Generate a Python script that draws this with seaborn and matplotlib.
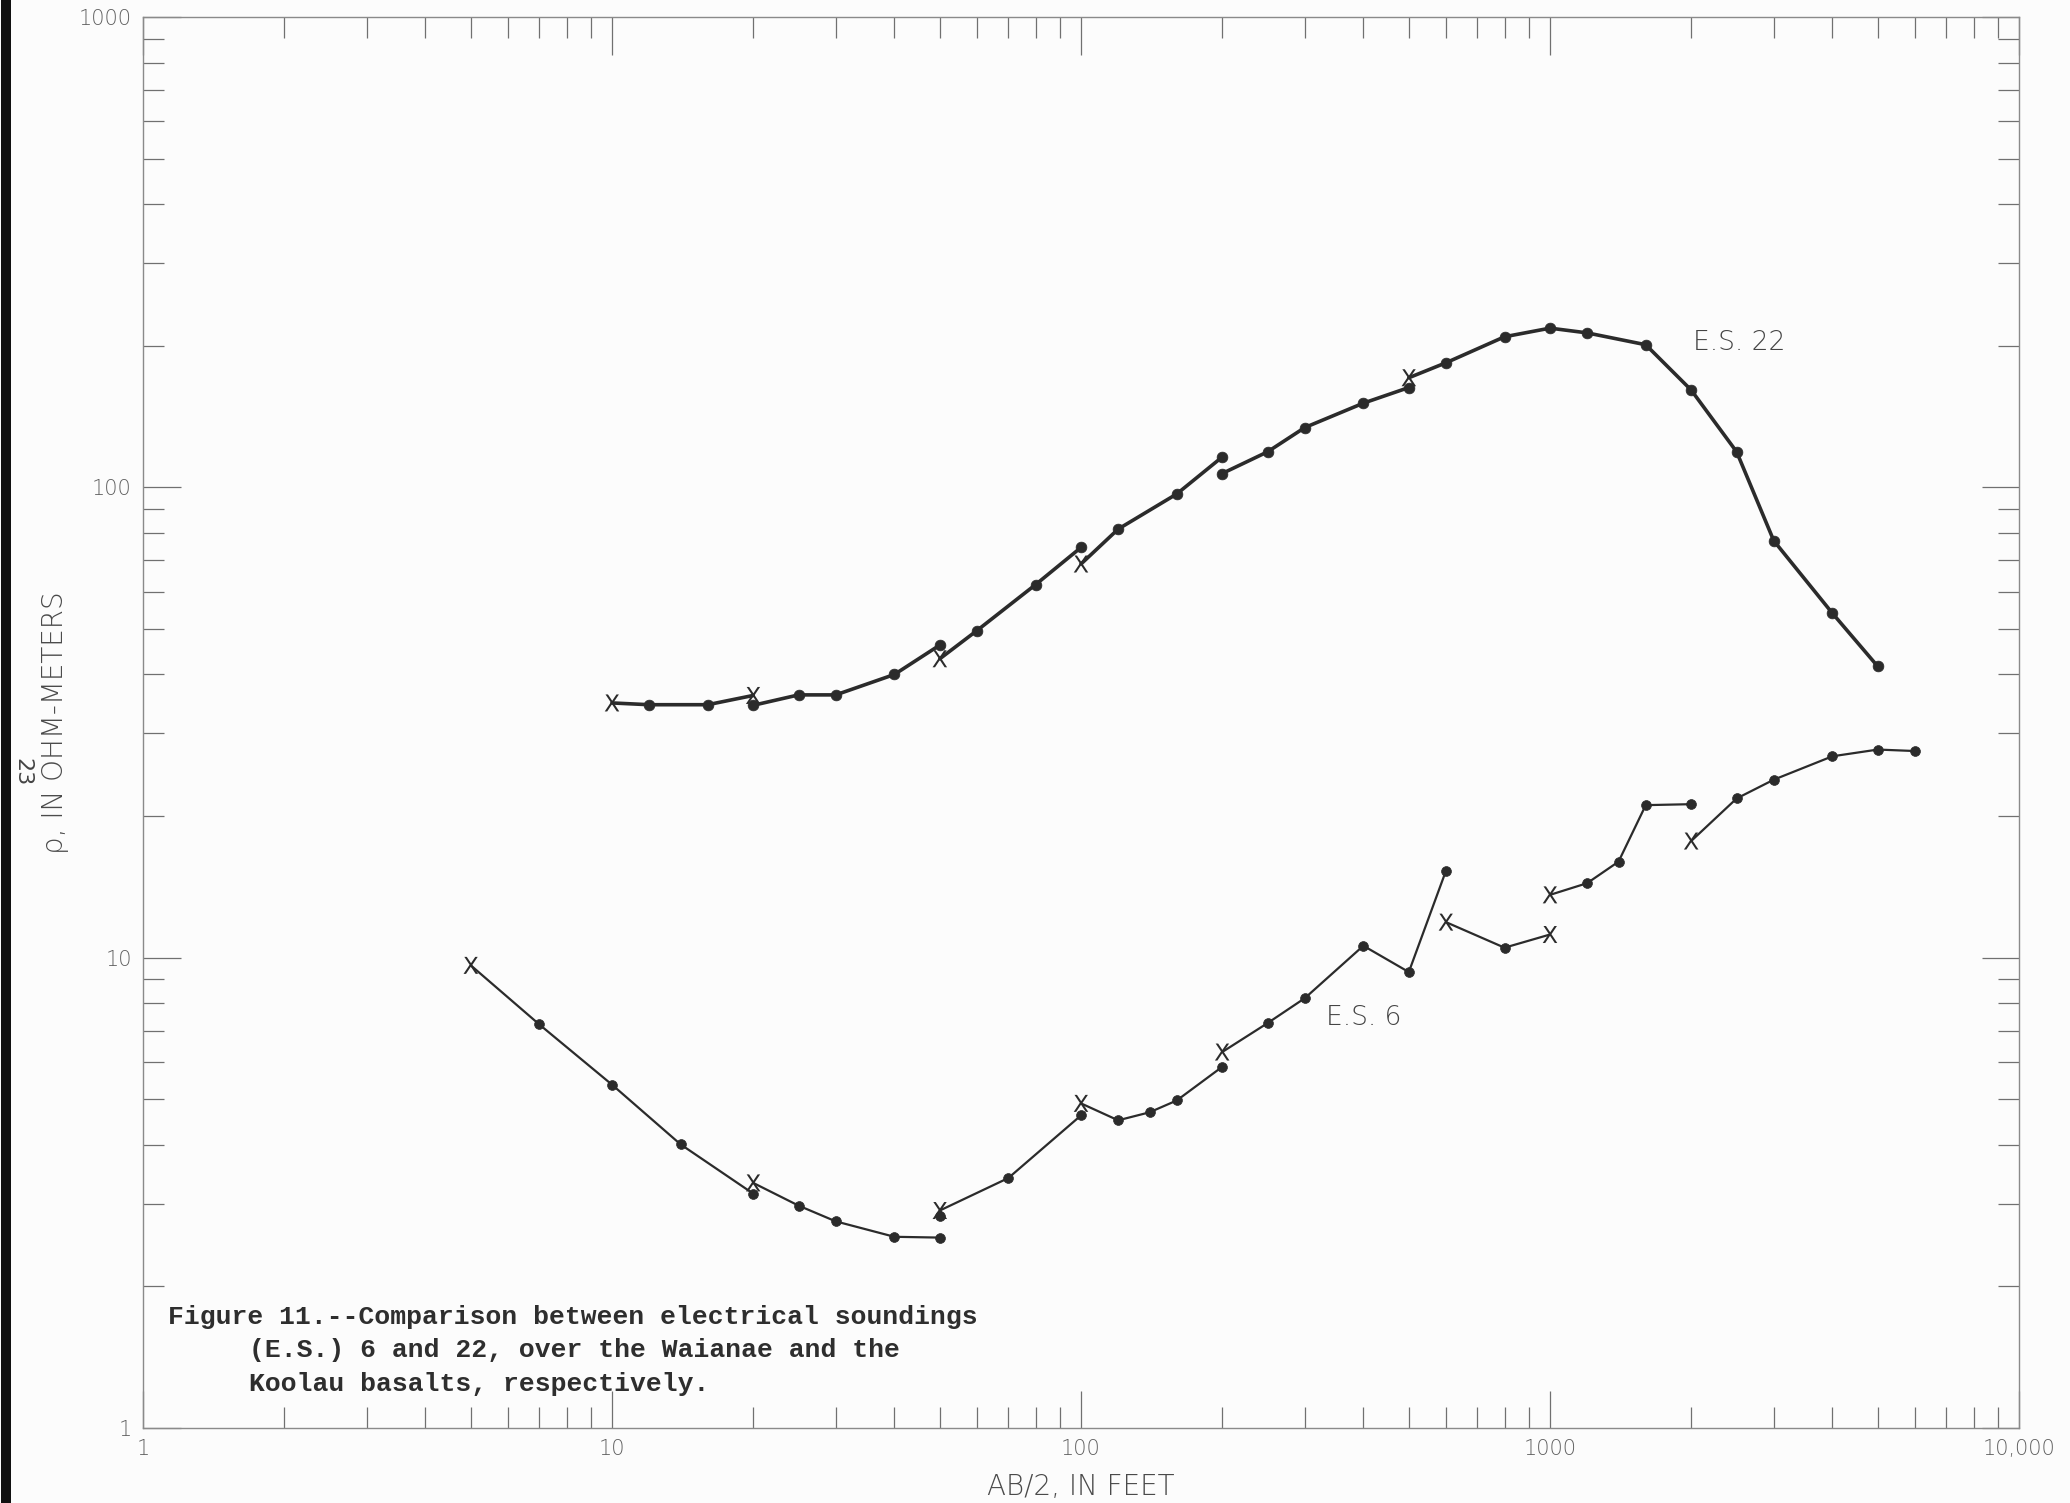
import numpy as np
import pandas as pd
import matplotlib
matplotlib.use("Agg")
import matplotlib.pyplot as plt
from matplotlib.patches import Rectangle
from matplotlib.ticker import FixedLocator, FixedFormatter, NullFormatter
import seaborn as sns

# ---------------- data ----------------
# E.S. 22 (Koolau basalts)
es22_x    = [10, 12, 16, 20,   20, 25, 30, 40, 50,   50, 60, 80, 100,
             100, 120, 160, 200,   200, 250, 300, 400, 500,
             500, 600, 800, 1000, 1200, 1600, 2000, 2500, 3000, 4000, 5000]
es22_y    = [34.8, 34.5, 34.5, 36.1,   34.4, 36.2, 36.2, 40.0, 46.2,   43.2, 49.6, 62.1, 74.5,
             68.7, 81.5, 96.8, 116,   107, 119, 134, 151, 163,
             171, 184, 209, 218, 213, 201, 161, 119, 77, 54, 41.6]
es22_mark = ['x', 'o', 'o', 'x',   'o', 'o', 'o', 'o', 'o',   'x', 'o', 'o', 'o',
             'x', 'o', 'o', 'o',   'o', 'o', 'o', 'o', 'o',
             'x', 'o', 'o', 'o', 'o', 'o', 'o', 'o', 'o', 'o', 'o']
es22_seg  = [1, 1, 1, 1,   2, 2, 2, 2, 2,   3, 3, 3, 3,
             4, 4, 4, 4,   5, 5, 5, 5, 5,
             6, 6, 6, 6, 6, 6, 6, 6, 6, 6, 6]

# E.S. 6 (Waianae basalts)
es6_x    = [5, 7, 10, 14, 20,   20, 25, 30, 40, 50,   50,   50, 70, 100,
            100, 120, 140, 160, 200,   200, 250, 300, 400, 500, 600,
            600, 800, 1000,   1000, 1200, 1400, 1600, 2000,
            2000, 2500, 3000, 4000, 5000, 6000]
es6_y    = [9.63, 7.21, 5.37, 4.01, 3.15,   3.32, 2.97, 2.75, 2.55, 2.54,   2.82,   2.90, 3.40, 4.62,
            4.90, 4.51, 4.69, 4.97, 5.86,   6.30, 7.26, 8.2, 10.6, 9.32, 15.3,
            11.9, 10.5, 11.2,   13.6, 14.4, 16.0, 21.1, 21.2,
            17.7, 21.8, 23.9, 26.8, 27.7, 27.5]
es6_mark = ['x', 'o', 'o', 'o', 'o',   'x', 'o', 'o', 'o', 'o',   'o',   'x', 'o', 'o',
            'x', 'o', 'o', 'o', 'o',   'x', 'o', 'o', 'o', 'o', 'o',
            'x', 'o', 'x',   'x', 'o', 'o', 'o', 'o',
            'x', 'o', 'o', 'o', 'o', 'o']
es6_seg  = [1, 1, 1, 1, 1,   2, 2, 2, 2, 2,   0,   3, 3, 3,
            4, 4, 4, 4, 4,   5, 5, 5, 5, 5, 5,
            6, 6, 6,   7, 7, 7, 7, 7,
            8, 8, 8, 8, 8, 8]

x_ticks = [1, 10, 100, 1000, 10000]
x_tick_labels = ['1', '10', '100', '1000', '10,000']
y_ticks = [1, 10, 100, 1000]
y_tick_labels = ['1', '10', '100', '1000']

curve_labels = ['E.S. 22', 'E.S. 6']
caption_lines = ["Figure 11.--Comparison between electrical soundings",
                 "(E.S.) 6 and 22, over the Waianae and the",
                 "Koolau basalts, respectively."]

# ---------------- figure ----------------
sns.set_style("white")
plt.rcParams['font.family'] = ['DejaVu Sans']

W, H = 2070, 1503
fig = plt.figure(figsize=(W / 100, H / 100), dpi=100, facecolor='#fcfcfc')
ax_l, ax_r, ax_t, ax_b = 143, 2019, 17, 1428
ax = fig.add_axes([ax_l / W, 1 - ax_b / H, (ax_r - ax_l) / W, (ax_b - ax_t) / H])
ax.set_facecolor('#fcfcfc')

df22 = pd.DataFrame({'x': es22_x, 'y': es22_y, 'mark': es22_mark, 'seg': es22_seg})
df6 = pd.DataFrame({'x': es6_x, 'y': es6_y, 'mark': es6_mark, 'seg': es6_seg})

ink = '#2b2b2b'
for df, lw, ms in [(df22, 2.6, 60), (df6, 1.6, 50)]:
    lines = df[df['seg'] > 0]
    sns.lineplot(data=lines, x='x', y='y', units='seg', estimator=None, sort=False,
                 color=ink, lw=lw, ax=ax, legend=False)
    sns.scatterplot(data=df[df['mark'] == 'o'], x='x', y='y', marker='o', s=ms,
                    color=ink, edgecolor=ink, linewidth=0.5, ax=ax, legend=False, zorder=3)
    sns.scatterplot(data=df[df['mark'] == 'x'], x='x', y='y', marker=r'$\mathsf{X}$', s=150,
                    color=ink, edgecolor='none', linewidth=0, ax=ax, legend=False, zorder=3)

ax.set_xscale('log')
ax.set_yscale('log')
ax.set_xlim(1, 10000)
ax.set_ylim(1, 1000)

tick_col = '#707070'
ax.xaxis.set_major_locator(FixedLocator(x_ticks))
ax.xaxis.set_major_formatter(FixedFormatter(x_tick_labels))
ax.yaxis.set_major_locator(FixedLocator(y_ticks))
ax.yaxis.set_major_formatter(FixedFormatter(y_tick_labels))
minor_x = [m * 10 ** e for e in range(0, 4) for m in range(2, 10)]
minor_y = [m * 10 ** e for e in range(0, 3) for m in range(2, 10)]
ax.xaxis.set_minor_locator(FixedLocator(minor_x))
ax.yaxis.set_minor_locator(FixedLocator(minor_y))
ax.xaxis.set_minor_formatter(NullFormatter())
ax.yaxis.set_minor_formatter(NullFormatter())

ax.tick_params(which='both', direction='in', top=True, right=True, bottom=True, left=True,
               labeltop=False, labelright=False, color=tick_col, width=0.9)
ax.tick_params(which='major', length=27, labelsize=15, labelcolor='#606060', pad=8)
ax.tick_params(which='minor', length=15)
for lab in ax.get_xticklabels() + ax.get_yticklabels():
    lab.set_fontweight('light')

for sp in ax.spines.values():
    sp.set_color('#8a8a8a')
    sp.set_linewidth(1.0)

ax.set_xlabel('AB/2, IN FEET', fontsize=20, color='#4a4a4a', fontweight='light')
ax.set_ylabel('ρ, IN OHM-METERS', fontsize=20, color='#4a4a4a', fontweight='light')
ax.xaxis.set_label_coords(0.5, -(1487 - ax_b) / (ax_b - ax_t), transform=ax.transAxes)
ax.yaxis.set_label_coords(-(ax_l - 55) / (ax_r - ax_l), 0.5, transform=ax.transAxes)
ax.xaxis.label.set_va('center')
ax.yaxis.label.set_va('center')

ax.text(2530, 203, curve_labels[0], fontsize=19, color='#444444', ha='center', va='center',
        fontweight='light')
ax.text(400, 7.45, curve_labels[1], fontsize=19, color='#444444', ha='center', va='center',
        fontweight='light')

cap_x = [168, 249, 249]
cap_y = [1317, 1350, 1384]
for t, cx, cy in zip(caption_lines, cap_x, cap_y):
    fig.text(cx / W, 1 - cy / H, t, fontsize=19, family='Liberation Mono', fontweight='bold',
             color='#2e2e2e', ha='left', va='center')

# scan edge and page number
fig.patches.append(Rectangle((1 / W, 0), 10 / W, 1, transform=fig.transFigure,
                             facecolor='#111111', edgecolor='none'))
fig.text(22 / W, 1 - 772 / H, '23', fontsize=16, color='#444444', rotation=270,
         ha='center', va='center')

fig.savefig('out.png', dpi=100, facecolor=fig.get_facecolor())
